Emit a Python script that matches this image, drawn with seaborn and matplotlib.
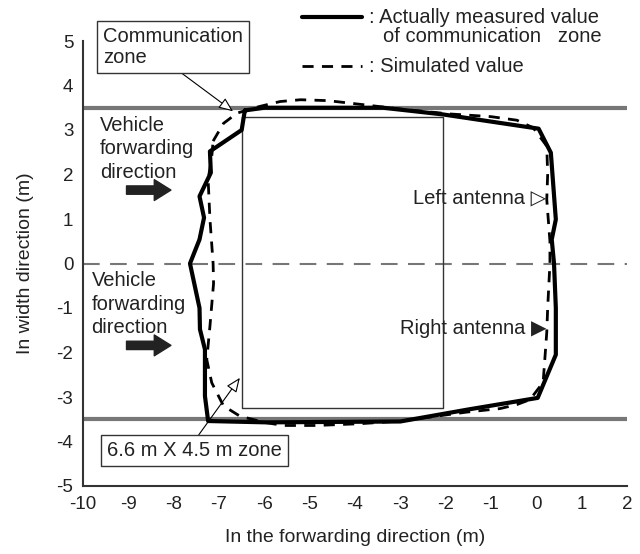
import matplotlib
matplotlib.use("Agg")
import matplotlib.pyplot as plt
import seaborn as sns

# measured communication zone (solid)
measured_x = [-6.43, -6.50, -7.20, -7.18, -7.43, -7.33, -7.43, -7.64, -7.43, -7.42,
              -7.31, -7.31, -7.24, -5.95, -3.00, -1.50, 0.03, 0.43, 0.43, 0.39,
              0.34, 0.43, 0.32, 0.05, -2.06, -3.38, -6.00, -6.43]
measured_y = [3.44, 3.00, 2.52, 2.04, 1.51, 1.03, 0.54, 0.00, -1.00, -1.48,
              -1.93, -2.98, -3.54, -3.57, -3.55, -3.28, -3.02, -2.05, -1.00, 0.00,
              0.54, 0.99, 2.49, 3.03, 3.35, 3.50, 3.50, 3.44]

# simulated zone (dashed)
sim_x = [-7.13, -6.90, -6.60, -6.10, -5.65, -5.20, -4.60, -3.74, -3.00, -1.90,
         -1.00, -0.43, -0.07, 0.23, 0.25, 0.23, 0.30, 0.30, 0.25, 0.23,
         0.15, -0.14, -0.43, -0.80, -1.54, -3.00, -3.89, -4.85, -5.58, -6.00,
         -6.54, -6.90, -7.16, -7.27, -7.20, -7.12, -7.13, -7.20, -7.24, -7.16, -7.13]
sim_y = [2.75, 3.15, 3.38, 3.53, 3.64, 3.68, 3.66, 3.56, 3.47, 3.36,
         3.30, 3.22, 3.05, 2.64, 2.00, 1.44, 0.50, 0.00, -1.00, -1.55,
         -2.67, -3.06, -3.17, -3.26, -3.34, -3.54, -3.60, -3.64, -3.64, -3.57,
         -3.43, -3.20, -2.68, -2.16, -1.41, -0.45, 0.00, 1.00, 1.89, 2.40, 2.75]

# 6.6 m x 4.5 m zone rectangle
zone_x = [-6.50, -2.05, -2.05, -6.50, -6.50]
zone_y = [3.30, 3.30, -3.25, -3.25, 3.30]

lane_edges = [3.5, -3.5]
x_ticks = list(range(-10, 3))
y_ticks = list(range(-5, 6))

sns.set_theme(style="white")
plt.rcParams['font.family'] = ['Liberation Sans', 'DejaVu Sans']
plt.rcParams['axes.unicode_minus'] = False

TXT = "#222222"
FS = 14.5

fig = plt.figure(figsize=(6.4, 5.54), dpi=100)
ax = fig.add_axes([83 / 640, 1 - 486 / 554, 544 / 640, 445 / 554])

for yv in lane_edges:
    ax.axhline(yv, color="#777777", lw=3, zorder=1)
ax.axhline(0, color="#777777", lw=1.5, dashes=(8, 5), zorder=1)

sns.lineplot(x=zone_x, y=zone_y, sort=False, estimator=None, color="#333333", lw=1.0, ax=ax)
sns.lineplot(x=sim_x, y=sim_y, sort=False, estimator=None, color="black", lw=2.0,
             ax=ax).lines[-1].set_dashes((4, 3))
sns.lineplot(x=measured_x, y=measured_y, sort=False, estimator=None, color="black", lw=3.0, ax=ax)

ax.set_xlim(-10, 2)
ax.set_ylim(-5, 5)
ax.set_xticks(x_ticks)
ax.set_yticks(y_ticks)
ax.tick_params(direction="in", length=5, width=1.2, color="#333333", labelsize=13.5,
               labelcolor=TXT, pad=7)
for side in ["top", "right"]:
    ax.spines[side].set_visible(False)
for side in ["left", "bottom"]:
    ax.spines[side].set_color("#333333")
    ax.spines[side].set_linewidth(1.5)
ax.set_xlabel("In the forwarding direction (m)", fontsize=14, color=TXT, labelpad=12)
ax.set_ylabel("In width direction (m)", fontsize=14, color=TXT, labelpad=16)

box = dict(boxstyle="square,pad=0.3", fc="white", ec="#333333", lw=1.0)
hollow = dict(arrowstyle="-|>,head_length=0.6,head_width=0.25", fc="white", ec="black", lw=0.8,
              shrinkA=0, shrinkB=0, relpos=(0.5, 0))
ax.annotate("Communication\nzone", xy=(-6.69, 3.42), xytext=(-9.55, 4.86),
            fontsize=FS, ha="left", va="center", linespacing=1.1, bbox=box, color=TXT,
            arrowprops=hollow, annotation_clip=False)
hollow2 = dict(hollow, relpos=(0.5, 1))
ax.annotate("6.6 m X 4.5 m zone", xy=(-6.54, -2.57), xytext=(-7.55, -4.21),
            fontsize=FS, ha="center", va="center", bbox=box, color=TXT, arrowprops=hollow2)

ax.text(-9.62, 2.58, "Vehicle\nforwarding\ndirection", fontsize=FS, ha="left", va="center",
        linespacing=1.3, color=TXT)
ax.text(-9.81, -0.92, "Vehicle\nforwarding\ndirection", fontsize=FS, ha="left", va="center",
        linespacing=1.3, color=TXT)
thick = dict(arrowstyle="simple,head_length=0.6,head_width=0.75,tail_width=0.3",
             color="#222222", shrinkA=0, shrinkB=0, mutation_scale=20)
ax.annotate("", xy=(-8.06, 1.65), xytext=(-9.04, 1.65), arrowprops=thick)
ax.annotate("", xy=(-8.06, -1.84), xytext=(-9.04, -1.84), arrowprops=thick)

ax.text(0.22, 1.48, "Left antenna \u25b7", fontsize=FS, ha="right", va="center", color=TXT)
ax.text(0.22, -1.46, "Right antenna \u25b6", fontsize=FS, ha="right", va="center", color=TXT)

# legend drawn as lines and text above the plot
ax.plot([-5.17, -3.85], [5.53, 5.53], color="black", lw=3, clip_on=False)
ax.plot([-5.17, -3.85], [4.43, 4.43], color="black", lw=2, dashes=(4, 3), clip_on=False)
ax.text(-3.70, 5.53, ": Actually measured value", fontsize=FS, ha="left", va="center", color=TXT)
ax.text(-3.38, 5.11, "of communication   zone", fontsize=FS, ha="left", va="center", color=TXT)
ax.text(-3.70, 4.43, ": Simulated value", fontsize=FS, ha="left", va="center", color=TXT)

fig.savefig("out.png", dpi=100)
